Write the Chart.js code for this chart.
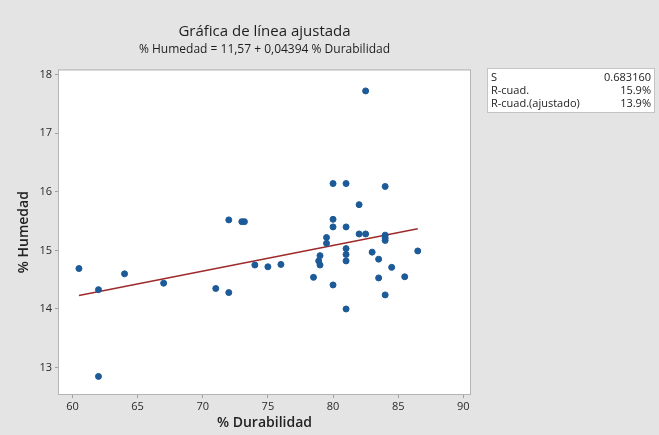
<!DOCTYPE html>
<html>
<head>
<meta charset="utf-8">
<script src="https://cdn.jsdelivr.net/npm/chart.js@4"></script>
<style>
  html, body { margin: 0; padding: 0; background: #e4e4e4; }
  #wrap { width: 659px; height: 435px; }
</style>
</head>
<body>
<div id="wrap"><canvas id="fitChart"></canvas></div>
<script>
// % Durabilidad (x) and % Humedad (y)
const durabilidad = [
  60.5, 62, 62, 64, 67, 71, 72, 72, 73, 73.2, 74, 75, 76, 78.5, 79, 78.9, 79,
  79.5, 79.5, 80, 80, 80, 80, 81, 81, 81, 81, 81, 81, 82, 82, 82.5, 82.5,
  83, 83.5, 83.5, 84, 84, 84, 84, 84, 84.5, 85.5, 86.5
];
const humedad = [
  14.69, 14.33, 12.85, 14.60, 14.44, 14.35, 15.52, 14.28, 15.49, 15.49, 14.75, 14.72, 14.76, 14.54, 14.91, 14.82, 14.75,
  15.22, 15.12, 16.14, 15.53, 15.40, 14.41, 16.14, 15.40, 15.03, 14.93, 14.82, 14.00, 15.78, 15.28, 15.28, 17.72,
  14.97, 14.85, 14.53, 16.09, 15.26, 15.21, 15.17, 14.24, 14.71, 14.55, 14.99
];
// fitted line end points: % Humedad = 11,57 + 0,04394 % Durabilidad
const fitX = [60.5, 86.5];
const fitY = [14.23, 15.37];

const statLabels = ['S', 'R-cuad.', 'R-cuad.(ajustado)'];
const statValues = ['0.683160', '15.9%', '13.9%'];

const font = "'Open Sans', 'Noto Sans', sans-serif";

const panelPlugin = {
  id: 'panel',
  beforeDraw(chart) {
    const {ctx, chartArea: a} = chart;
    ctx.save();
    ctx.fillStyle = '#e4e4e4';
    ctx.fillRect(0, 0, chart.width, chart.height);
    ctx.fillStyle = '#ffffff';
    ctx.fillRect(a.left, a.top, a.right - a.left, a.bottom - a.top);
    ctx.restore();
  },
  afterDraw(chart) {
    const {ctx, chartArea: a} = chart;
    ctx.save();
    ctx.strokeStyle = '#b4b4b4';
    ctx.lineWidth = 1;
    ctx.strokeRect(a.left - 0.5, a.top - 0.5, a.right - a.left + 1, a.bottom - a.top + 1);
    // stats box
    ctx.fillStyle = '#ffffff';
    ctx.fillRect(487, 68, 168, 45);
    ctx.strokeStyle = '#c4c4c4';
    ctx.strokeRect(487.5, 68.5, 167, 44);
    ctx.fillStyle = '#222';
    ctx.font = '11px ' + font;
    ctx.textBaseline = 'middle';
    statLabels.forEach((s, i) => {
      ctx.textAlign = 'left';
      ctx.fillText(s, 491, 77.5 + i * 13.2);
      ctx.textAlign = 'right';
      ctx.fillText(statValues[i], 651, 77.5 + i * 13.2);
    });
    ctx.restore();
  }
};

const data = {
  datasets: [{
    type: 'line',
    label: 'Ajuste',
    data: fitX.map((x, i) => ({x: x, y: fitY[i]})),
    borderColor: '#9e2a2b',
    borderWidth: 1.5,
    pointRadius: 0,
    fill: false,
    order: 2
  }, {
    type: 'scatter',
    label: 'Datos',
    data: durabilidad.map((x, i) => ({x: x, y: humedad[i]})),
    backgroundColor: '#1c5a98',
    borderColor: '#1c5a98',
    pointRadius: 3,
    pointHoverRadius: 3,
    order: 1
  }]
};

const config = {
  type: 'scatter',
  data,
  plugins: [panelPlugin],
  options: {
    responsive: true,
    maintainAspectRatio: false,
    animation: false,
    layout: { padding: { left: 0, right: 189, top: 0, bottom: 0 } },
    plugins: {
      legend: { display: false },
      tooltip: { enabled: false },
      title: {
        display: true,
        fullSize: false,
        text: 'Gráfica de línea ajustada',
        color: '#1e1e1e',
        font: { family: font, size: 15, weight: 'normal' },
        padding: { top: 23, bottom: 0 }
      },
      subtitle: {
        display: true,
        fullSize: false,
        text: '% Humedad = 11,57 + 0,04394 % Durabilidad',
        color: '#1e1e1e',
        font: { family: font, size: 12, weight: 'normal' },
        padding: { top: 1, bottom: 14 }
      }
    },
    scales: {
      x: {
        type: 'linear',
        min: 58.97,
        max: 90.51,
        afterFit(scale) { scale.height = 41; },
        border: { display: false },
        grid: { drawOnChartArea: false, drawTicks: true, tickLength: 4, color: '#a0a0a0' },
        ticks: { stepSize: 5, includeBounds: false, color: '#2a2a2a', padding: 2, font: { family: font, size: 11 } },
        title: { display: true, text: '% Durabilidad', color: '#222', padding: { top: 0, bottom: 4 }, font: { family: font, size: 14, weight: 600 } }
      },
      y: {
        type: 'linear',
        min: 12.55,
        max: 18.07,
        afterFit(scale) { scale.width = 59; },
        border: { display: false },
        grid: { drawOnChartArea: false, drawTicks: true, tickLength: 4, color: '#a0a0a0' },
        ticks: { stepSize: 1, includeBounds: false, color: '#2a2a2a', padding: 3, font: { family: font, size: 11 } },
        title: { display: true, text: '% Humedad', color: '#222', padding: { top: 16, bottom: 0 }, font: { family: font, size: 14, weight: 600 } }
      }
    }
  }
};

var fitChart = new Chart(
  document.getElementById('fitChart'),
  config
);
</script>
</body>
</html>
